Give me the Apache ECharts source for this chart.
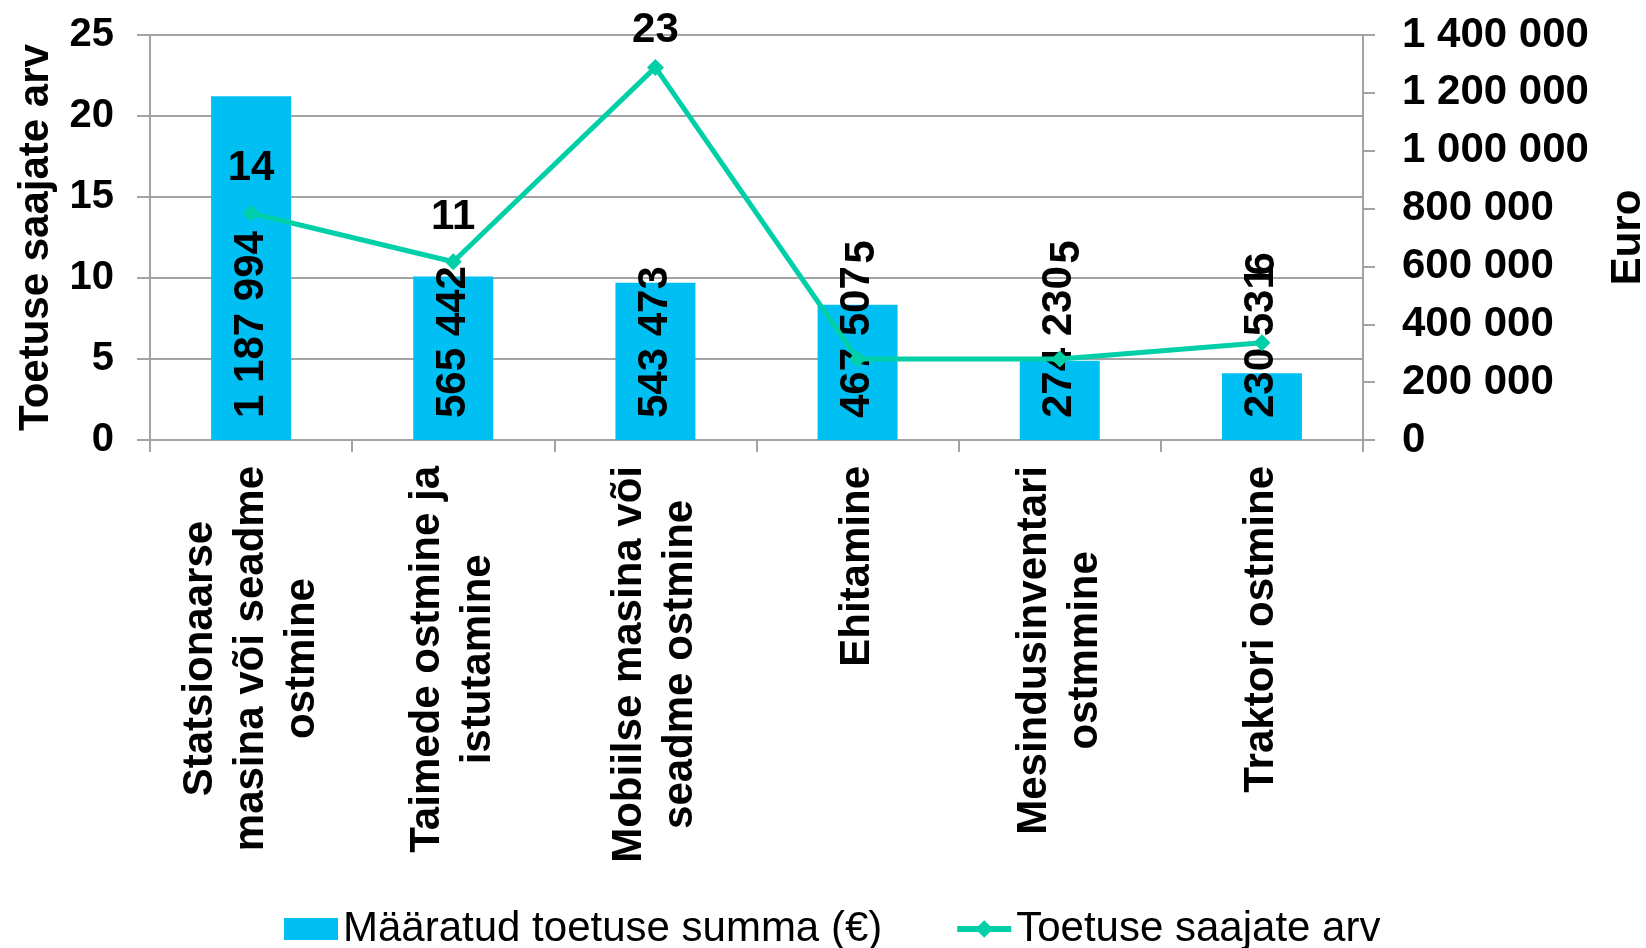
<!DOCTYPE html>
<html lang="et" style="height: 100%">
<head>
    <meta charset="UTF-8">
    <script src="https://cdn.jsdelivr.net/npm/echarts@6/dist/echarts.min.js"></script>
</head>
<body style="height: 100%; margin: 0; background: #fff">
<div id="container" style="width: 1646px; height: 948px"></div>
<script>
    // kategooriad (x-telg)
    var categories = [
        'Statsionaarse\nmasina või seadme\nostmine',
        'Taimede ostmine ja\nistutamine',
        'Mobiilse masina või\nseadme ostmine',
        'Ehitamine',
        'Mesindusinventari\nostmmine',
        'Traktori ostmine'
    ];
    // määratud toetuse summa, euro
    var amounts = [1187994, 565442, 543473, 467507, 274230, 230531];
    // toetuse saajate arv
    var recipients = [14, 11, 23, 5, 5, 6];

    var leftTicks = {min: 0, max: 25, interval: 5};
    var rightTicks = {min: 0, max: 1400000, interval: 200000};

    var font = "'Liberation Sans', Arial, sans-serif";
    var gray = '#a3a3a3';
    var teal = '#00CFA8';

    function spaced(v) {
        return String(v).replace(/\B(?=(\d{3})+(?!\d))/g, ' ');
    }

    // label placement for the line points (Excel put the last three sideways;
    // for rotated ones the offset is in the rotated frame)
    var lineLabelLayout = [
        {offset: [0, -45]},
        {offset: [0, -44]},
        {offset: [0, -37]},
        {offset: [107, 5], rotate: 90},
        {offset: [107, 8], rotate: 90},
        {offset: [79, 1], rotate: 90}
    ];
    var lineData = recipients.map(function (v, i) {
        return {value: v, label: lineLabelLayout[i]};
    });

    var myChart = echarts.init(document.getElementById('container'));
    var option = {
        backgroundColor: '#fff',
        animation: false,
        textStyle: {fontFamily: font},
        grid: {left: 150, right: 283, top: 35, bottom: 508, outerBoundsMode: 'none', containLabel: false},
        legend: {
            left: 279,
            top: 903,
            itemWidth: 54,
            itemHeight: 22,
            itemGap: 72,
            textStyle: {fontSize: 42, color: '#000', fontFamily: font},
            data: [
                {name: 'Määratud toetuse summa (€)', icon: 'rect'},
                {name: 'Toetuse saajate arv', lineStyle: {width: 6, color: teal}}
            ]
        },
        xAxis: {
            type: 'category',
            data: categories,
            axisLine: {lineStyle: {color: gray, width: 2}},
            axisTick: {show: true, length: 12, lineStyle: {color: gray, width: 2}},
            axisLabel: {
                interval: 0,
                rotate: 90,
                margin: 26,
                formatter: function (v) {
                    return v.split('\n').map(function (s) { return '{c|' + s + '}'; }).join('\n');
                },
                rich: {
                    c: {align: 'center', fontSize: 42, fontWeight: 'bold', lineHeight: 51, color: '#000', fontFamily: font}
                }
            }
        },
        yAxis: [
            {
                type: 'value',
                min: leftTicks.min, max: leftTicks.max, interval: leftTicks.interval,
                name: 'Toetuse saajate arv',
                nameLocation: 'middle',
                nameGap: 93,
                nameRotate: 90,
                nameTextStyle: {fontSize: 42, fontWeight: 'bold', color: '#000', fontFamily: font},
                axisLine: {show: true, lineStyle: {color: gray, width: 2}},
                axisTick: {show: true, length: 13, lineStyle: {color: gray, width: 2}},
                splitLine: {show: true, lineStyle: {color: gray, width: 2}},
                axisLabel: {fontSize: 40, fontWeight: 'bold', color: '#000', margin: 36}
            },
            {
                type: 'value',
                position: 'right',
                min: rightTicks.min, max: rightTicks.max, interval: rightTicks.interval,
                name: 'Euro',
                nameLocation: 'middle',
                nameGap: 244,
                nameRotate: 90,
                nameTextStyle: {fontSize: 42, fontWeight: 'bold', color: '#000', fontFamily: font},
                axisLine: {show: true, lineStyle: {color: gray, width: 2}},
                axisTick: {show: true, length: 12, lineStyle: {color: gray, width: 2}},
                splitLine: {show: false},
                axisLabel: {fontSize: 42, fontWeight: 'bold', color: '#000', margin: 39, formatter: spaced}
            }
        ],
        series: [
            {
                name: 'Määratud toetuse summa (€)',
                type: 'bar',
                yAxisIndex: 1,
                barWidth: 80,
                data: amounts,
                itemStyle: {color: '#00BFF3'},
                label: {
                    show: true,
                    position: 'insideBottom',
                    distance: 22,
                    rotate: 90,
                    align: 'left',
                    verticalAlign: 'middle',
                    fontSize: 42,
                    fontWeight: 'bold',
                    color: '#000',
                    fontFamily: font,
                    formatter: function (p) { return spaced(p.value); }
                },
                z: 2
            },
            {
                name: 'Toetuse saajate arv',
                type: 'line',
                yAxisIndex: 0,
                data: lineData,
                symbol: 'diamond',
                symbolSize: 17,
                lineStyle: {color: teal, width: 5},
                itemStyle: {color: teal},
                label: {
                    show: true,
                    position: 'inside',
                    align: 'center',
                    verticalAlign: 'middle',
                    fontSize: 42,
                    fontWeight: 'bold',
                    color: '#000',
                    fontFamily: font
                },
                z: 3
            }
        ]
    };
    myChart.setOption(option);
</script>
</body>
</html>
